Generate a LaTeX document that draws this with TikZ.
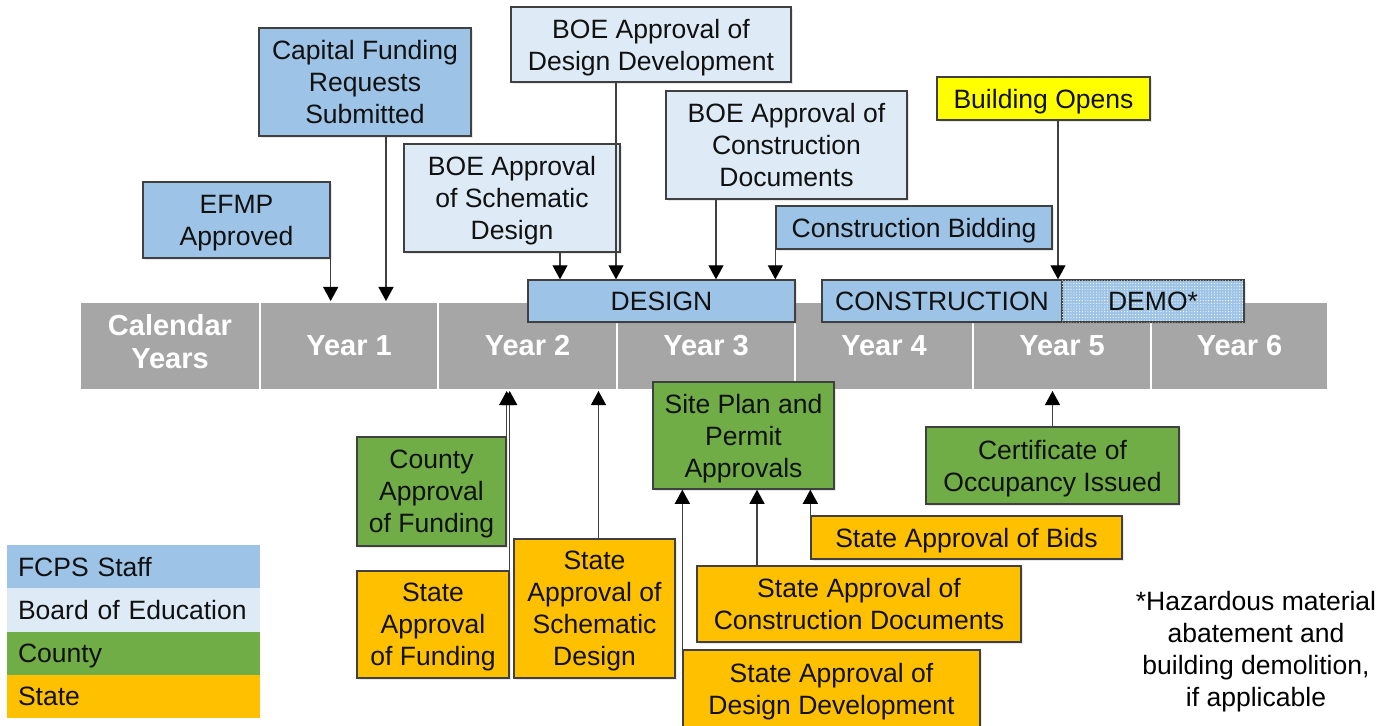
\documentclass[tikz,border=0pt]{standalone}
\usepackage{fontspec}
\setmainfont{Liberation Sans}
\usetikzlibrary{arrows.meta,calc,shadows,patterns.meta}

\definecolor{staff}{HTML}{9DC3E6}
\definecolor{board}{HTML}{DEEBF7}
\definecolor{county}{HTML}{70AD47}
\definecolor{state}{HTML}{FFC000}
\definecolor{openyel}{HTML}{FFFF00}
\definecolor{bargray}{HTML}{A6A6A6}
\definecolor{edge}{HTML}{404040}
\definecolor{ink}{HTML}{111111}

\begin{document}
\begin{tikzpicture}[x=0.02cm,y=-0.02cm,
  txt/.style={font=\fontsize{15.1}{18.2}\selectfont, text=ink, align=center, inner sep=0pt},
  box/.style={txt, text depth=0pt, draw=edge, line width=0.8pt,
    drop shadow={shadow xshift=1.2pt, shadow yshift=-1.2pt, opacity=0.18}},
  sz/.style 2 args={minimum width=#1cm, minimum height=#2cm},
  staffbox/.style={box, fill=staff},
  boardbox/.style={box, fill=board},
  countybox/.style={box, fill=county},
  statebox/.style={box, fill=state},
  openbox/.style={box, fill=openyel},
  phase/.style={box, fill=staff, minimum height=0.84cm},
  cell/.style={fill=bargray, draw=white, line width=1.1pt, minimum height=1.76cm,
    text=white, font=\bfseries\fontsize{16.5}{18.8}\selectfont, align=center, inner sep=0pt},
  legrow/.style={txt, text depth=0pt, align=left, text width=4.62cm, inner xsep=0.22cm,
    minimum height=0.866cm},
  arr/.style={draw=edge, line width=0.8pt, -{Triangle[width=8.5pt,length=8pt,color=black]}},
]
\useasboundingbox (0,0) rectangle (1396,725);

% calendar bar
\node[cell, minimum width=3.6cm, text depth=5.5pt] (cy) at (170,346) {Calendar\\Years};
\node[cell, minimum width=3.56cm] (y1) at (349,346)    {Year 1};
\node[cell, minimum width=3.58cm] (y2) at (527.5,346)  {Year 2};
\node[cell, minimum width=3.56cm] (y3) at (706,346)    {Year 3};
\node[cell, minimum width=3.56cm] (y4) at (884,346)    {Year 4};
\node[cell, minimum width=3.56cm] (y5) at (1062,346)   {Year 5};
\node[cell, minimum width=3.54cm] (y6) at (1239.5,346) {Year 6};

% phases
\node[phase, minimum width=5.34cm] (design) at (661.5,301) {DESIGN};
\node[phase, minimum width=4.8cm]  (constr) at (942,301)   {CONSTRUCTION};
\node[phase, minimum width=3.64cm,
  postaction={pattern={Dots[distance=1.6pt,radius=0.33pt]}, pattern color=white}]
  (demo) at (1153,301) {DEMO*};

% milestones above the bar
\node[staffbox, sz={3.74}{1.52}] (efmp)   at (236.5,220) {EFMP\\Approved};
\node[staffbox, sz={4.24}{2.16}] (cap)    at (365,82)    {Capital Funding\\Requests\\Submitted};
\node[boardbox, sz={4.32}{2.16}] (boesd)  at (512,198)   {BOE Approval\\of Schematic\\Design};
\node[boardbox, sz={5.6}{1.5}]   (boedd)  at (651,44.5)  {BOE Approval of\\Design Development};
\node[boardbox, sz={4.82}{2.16}] (boecd)  at (786.5,145) {BOE Approval of\\Construction\\Documents};
\node[staffbox, sz={5.52}{0.86}] (bid)    at (914,227.5)   {Construction Bidding};
\node[openbox,  sz={4.26}{0.86}] (opens)  at (1043.5,98.5) {Building Opens};

% approvals below the bar
\node[countybox, sz={3.62}{2.14}] (site)   at (743.5,435.5) {Site Plan and\\Permit\\Approvals};
\node[countybox, sz={2.98}{2.18}] (county) at (431.5,491.5) {County\\Approval\\of Funding};
\node[countybox, sz={5.06}{1.54}] (cert)   at (1052.5,465.5) {Certificate of\\Occupancy Issued};
\node[statebox, sz={3.04}{2.14}] (sfund)  at (433,624.5)   {State\\Approval\\of Funding};
\node[statebox, sz={3.22}{2.78}] (ssd)    at (594.5,608.5) {State\\Approval of\\Schematic\\Design};
\node[statebox, sz={5.94}{1.56}] (sdd)    at (831.5,689)   {State Approval of\\Design Development};
\node[statebox, sz={6.48}{1.52}] (scd)    at (859,604)     {State Approval of\\Construction Documents};
\node[statebox, sz={6.22}{0.86}] (sbids)  at (966.5,537.5) {State Approval of Bids};

% legend
\node[legrow, fill=staff]  (lstaff)  at (133.5,566.7) {FCPS Staff};
\node[legrow, fill=board]  (lboard)  at (133.5,610)   {Board of Education};
\node[legrow, fill=county] (lcounty) at (133.5,653.3) {County};
\node[legrow, fill=state]  (lstate)  at (133.5,696.7) {State};

% footnote
\node[txt, text=black] (note) at (1256,651.5)
  {*Hazardous material\\abatement and\\building demolition,\\if applicable};

% connector start points
\coordinate (pcap)   at ($(cap.south)+(21,0)$);
\coordinate (pboesd) at ($(boesd.south)+(48,0)$);
\coordinate (pboedd) at ($(boedd.south)+(-35,0)$);
\coordinate (pboecd) at ($(boecd.south)+(-70.5,0)$);
\coordinate (popens) at ($(opens.south)+(14.5,0)$);
\coordinate (pssd)   at ($(ssd.north)+(4,0)$);
\coordinate (pscd)   at ($(scd.north)+(-102,0)$);

% connectors down to the bar
\draw[arr] (efmp.south east) -- (efmp.south east |- y1.north);
\draw[arr] (pcap) -- (pcap |- y1.north);
\draw[arr] (pboesd) -- (pboesd |- design.north);
\draw[arr] (pboedd) -- (pboedd |- design.north);
\draw[arr] (pboecd) -- (pboecd |- design.north);
\draw[arr] (bid.south west) -- (bid.south west |- design.north);
\draw[arr] (popens) -- (popens |- constr.north);

% connectors up to the bar
\draw[arr] (county.north east) -- (county.north east |- y2.south);
\draw[arr] (sfund.north east) -- (sfund.north east |- y2.south);
\draw[arr] (pssd) -- (pssd |- y2.south);
\draw[arr] (sdd.north west) -- (sdd.north west |- site.south);
\draw[arr] (pscd) -- (pscd |- site.south);
\draw[arr] (sbids.north west) -- (sbids.north west |- site.south);
\draw[arr] (cert.north) -- (cert.north |- y5.south);
\end{tikzpicture}
\end{document}
